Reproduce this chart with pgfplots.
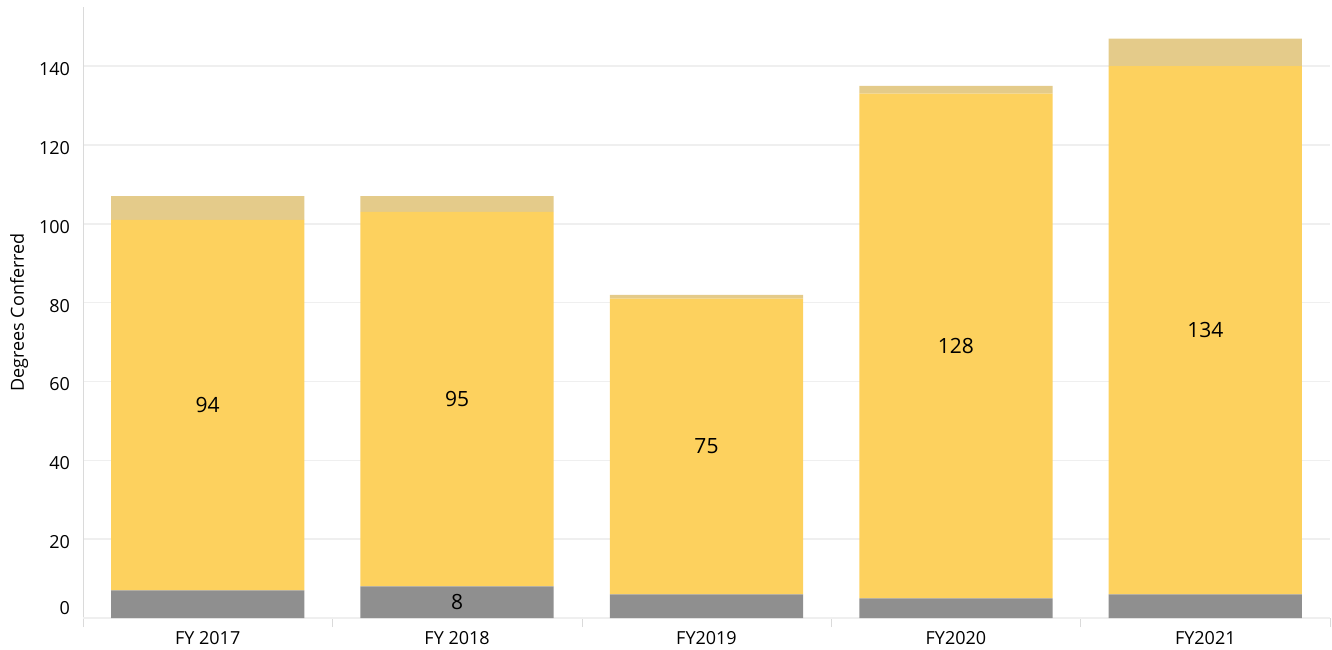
\documentclass[border=0pt]{standalone}
\usepackage{pgfplots}
\pgfplotsset{compat=1.18}
\usepackage{fontspec}
\setmainfont{Open Sans}
\definecolor{barGray}{HTML}{8F8F8F}
\definecolor{barYellow}{HTML}{FDD15E}
\definecolor{barTan}{HTML}{E4CB8A}
\definecolor{gridGray}{HTML}{EFEFEF}
\definecolor{axisGray}{HTML}{DADADA}
\newcommand{\tickfont}{\fontsize{9}{10}\selectfont}
\begin{document}
\begin{tikzpicture}
\begin{axis}[
  name=ax,
  scale only axis,
  width=623.5pt, height=305.5pt,
  ybar stacked,
  bar width=0.775,
  xmin=-0.5, xmax=4.5,
  ymin=0, ymax=155,
  xtick={0,...,4},
  xticklabels={FY 2017, FY 2018, FY2019, FY2020, FY2021},
  minor xtick={-0.5,0.5,...,4.5},
  ytick={20,40,...,140},
  extra y ticks={0},
  extra y tick style={yticklabel style={yshift=6.5pt}},
  axis x line*=bottom,
  axis y line*=left,
  axis line style={-, draw=axisGray},
  x axis line style={dash pattern=on 2pt off 1pt},
  major tick length=0pt,
  minor tick length=4.5pt,
  tick align=outside,
  minor tick style={draw=axisGray},
  ymajorgrids,
  major grid style={draw=gridGray, line width=0.8pt},
  /pgf/number format/assume math mode=true,
  ticklabel style={font=\tickfont, text=black},
  yticklabel style={xshift=-3pt, yshift=-1.5pt},
  xticklabel style={yshift=-3pt},
  ylabel={Degrees Conferred},
  ylabel style={at={(axis description cs:-0.0513,0.5)}, anchor=center, font=\tickfont},
  every node near coord/.append style={anchor=center, font=\fontsize{10.5}{12}\selectfont, text=black},
]
% Bottom segment (gray)
\addplot[fill=barGray, draw=none, point meta=explicit symbolic, nodes near coords]
  coordinates {(0,7) [] (1,8) [8] (2,6) [] (3,5) [] (4,6) []};
% Middle segment (yellow)
\addplot[fill=barYellow, draw=none, point meta=rawy, nodes near coords]
  coordinates {(0,94) (1,95) (2,75) (3,128) (4,134)};
% Top segment (tan)
\addplot[fill=barTan, draw=none]
  coordinates {(0,6) (1,4) (2,1) (3,2) (4,7)};
\end{axis}
\pgfresetboundingbox
\path ([shift={(-41.5pt,-15.5pt)}]ax.south west) rectangle ([shift={(1pt,3.5pt)}]ax.north east);
\end{tikzpicture}
\end{document}
